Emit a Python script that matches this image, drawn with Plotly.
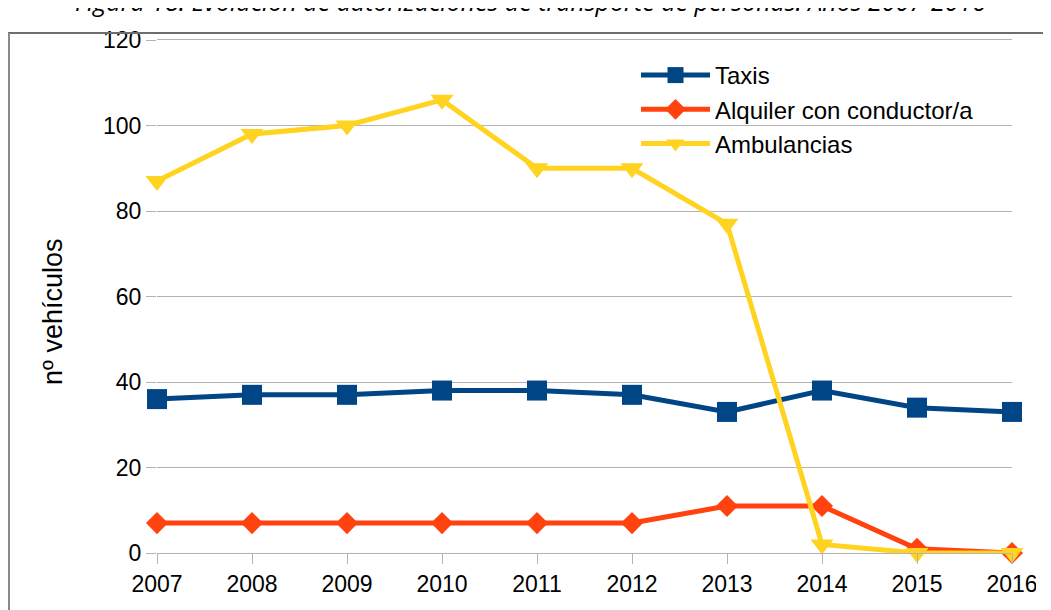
import plotly.graph_objects as go

years = [2007, 2008, 2009, 2010, 2011, 2012, 2013, 2014, 2015, 2016]
taxis = [36, 37, 37, 38, 38, 37, 33, 38, 34, 33]
alquiler = [7, 7, 7, 7, 7, 7, 11, 11, 1, 0]
ambulancias = [87, 98, 100, 106, 90, 90, 77, 2, 0, 0]
y_ticks = [0, 20, 40, 60, 80, 100, 120]

title_text = "Figura 18. Evolución de autorizaciones de transporte de personas. Años 2007-2016"
y_title = "nº vehículos"

# page is offset by 8px body margin; work in page coordinates
OFF = 8
W, H = 1051 - OFF, 610 - OFF
L, T = 157 - OFF, 40 - OFF
R = W - (1012 - OFF)
B = H - (553 - OFF)
pw, ph = W - L - R, H - T - B

def px_x(x):
    return (x - OFF - L) / pw

def px_y(y):
    return (H - B - (y - OFF)) / ph

fig = go.Figure()
fig.add_trace(go.Scatter(x=years, y=taxis, name="Taxis", mode="lines+markers",
                         line=dict(color="#004586", width=5),
                         marker=dict(symbol="square", size=20, color="#004586"),
                         cliponaxis=False, legendgroup="a"))
fig.add_trace(go.Scatter(x=years, y=alquiler, name="Alquiler con conductor/a", mode="lines+markers",
                         line=dict(color="#ff420e", width=5),
                         marker=dict(symbol="diamond", size=17, color="#ff420e"),
                         cliponaxis=False, legendgroup="b"))
fig.add_trace(go.Scatter(x=years, y=ambulancias, name="Ambulancias", mode="lines+markers",
                         line=dict(color="#ffd320", width=5),
                         marker=dict(symbol="triangle-down", size=20, color="#ffd320"),
                         cliponaxis=False, legendgroup="c"))

fig.update_layout(
    width=W, height=H,
    margin=dict(l=L, r=R, t=T, b=B),
    paper_bgcolor="white", plot_bgcolor="white",
    font=dict(family="Liberation Sans, Arial, sans-serif", size=24, color="black"),
    showlegend=True,
    legend=dict(x=px_x(636), y=px_y(53), xanchor="left", yanchor="top",
                bgcolor="rgba(0,0,0,0)", font=dict(size=24), tracegroupgap=0,
                itemwidth=69),
    xaxis=dict(range=[2007, 2016], tickmode="array", tickvals=years,
               ticktext=[str(y) for y in years],
               showgrid=False, zeroline=False, showline=True, linecolor="#b3b3b3",
               linewidth=1, mirror=True, ticks="outside", ticklen=10,
               tickcolor="#b3b3b3", tickfont=dict(size=23)),
    yaxis=dict(range=[0, 120], tickmode="array", tickvals=y_ticks,
               showgrid=True, gridcolor="#b3b3b3", gridwidth=1, zeroline=False,
               showline=False, ticks="outside", ticklen=10, tickcolor="#b3b3b3",
               tickfont=dict(size=23)),
)

# white strip at the far right edge
fig.add_shape(type="rect", xref="paper", yref="paper",
              x0=px_x(1036), x1=px_x(1052), y0=px_y(611), y1=px_y(30),
              line=dict(width=0), fillcolor="white", layer="above")
# outer frame lines
fig.add_shape(type="line", xref="paper", yref="paper",
              x0=px_x(8), x1=px_x(1051), y0=px_y(33), y1=px_y(33),
              line=dict(color="#6e6e6e", width=2))
fig.add_shape(type="line", xref="paper", yref="paper",
              x0=px_x(9), x1=px_x(9), y0=px_y(33), y1=px_y(612),
              line=dict(color="#8a8a8a", width=2))

fig.add_annotation(text=y_title, xref="paper", yref="paper",
                   x=px_x(53), y=px_y(312), xanchor="center", yanchor="middle",
                   textangle=-90, showarrow=False,
                   font=dict(size=27, color="black"))

fig.add_annotation(text=title_text, xref="paper", yref="paper",
                   x=px_x(530), y=px_y(20), xanchor="center", yanchor="bottom",
                   showarrow=False,
                   font=dict(family="Open Sans, sans-serif", size=25, style="italic", color="black"))

fig.write_html("out.html")
